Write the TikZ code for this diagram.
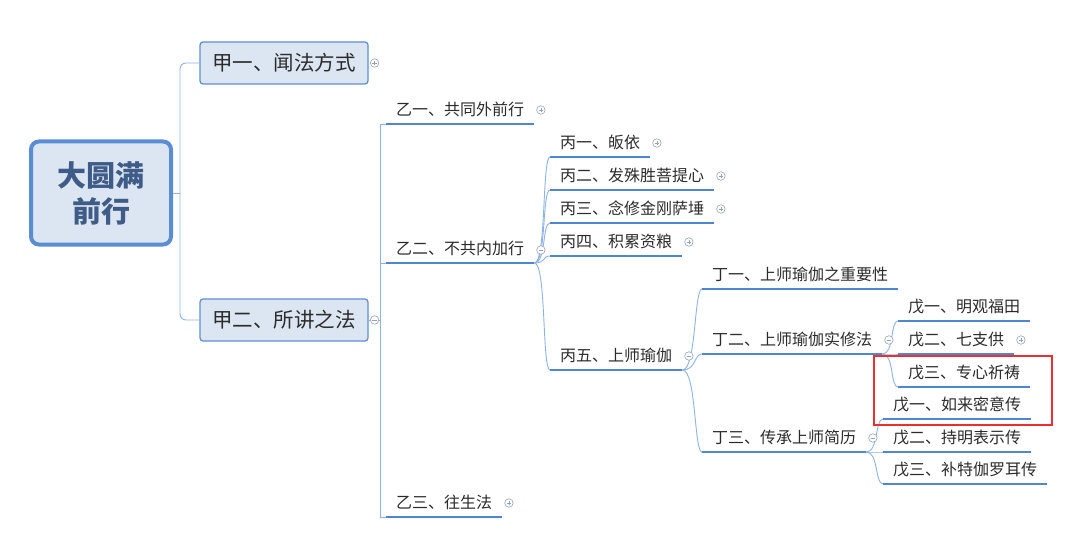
\documentclass[tikz,border=0pt]{standalone}
\usepackage{fontspec}
\setmainfont{Noto Sans CJK SC}
\definecolor{linkblue}{HTML}{8DB3E2}
\definecolor{lineblue}{HTML}{4F86CE}
\definecolor{boxblue}{HTML}{5B8DD3}
\definecolor{boxfill}{HTML}{DCE6F2}
\definecolor{roottext}{HTML}{3E5C87}
\definecolor{icongray}{HTML}{93A2BA}
\definecolor{labelgray}{HTML}{2B2B2B}
\definecolor{markred}{HTML}{EB2F2F}
\tikzset{
  rootbox/.style={draw=boxblue, fill=boxfill, line width=4pt, rounded corners=8pt,
    minimum width=140pt, minimum height=103pt, align=center,
    font=\fontsize{29}{36}\selectfont\bfseries, text=roottext},
  mainbox/.style={draw=boxblue, fill=boxfill, line width=1.2pt, rounded corners=3pt,
    minimum width=168pt, minimum height=42pt, inner xsep=10pt,
    font=\fontsize{20.5}{24}\selectfont, text=labelgray},
  topic/.style={anchor=south west, inner xsep=10pt, inner ysep=4pt,
    text height=12pt, text depth=4pt, font=\fontsize{16}{19}\selectfont, text=labelgray,
    append after command={(\tikzlastnode.south west) edge[uline] (\tikzlastnode.south east)}},
  uline/.style={draw=lineblue, line width=2.2pt},
  link/.style={draw=linkblue, line width=0.9pt},
  fan/.style={out=0, in=180, out distance=#1, in distance=8pt},
  fold/.style={circle, draw=icongray, fill=white, line width=0.6pt, inner sep=0pt, minimum size=8.5pt},
  foldplus/.style={fold, path picture={
    \draw[icongray, line width=0.6pt] ([xshift=-2.3pt]path picture bounding box.center) -- ([xshift=2.3pt]path picture bounding box.center)
      ([yshift=-2.3pt]path picture bounding box.center) -- ([yshift=2.3pt]path picture bounding box.center);}},
  foldminus/.style={fold, path picture={
    \draw[icongray, line width=0.6pt] ([xshift=-2.3pt]path picture bounding box.center) -- ([xshift=2.3pt]path picture bounding box.center);}},
  markbox/.style={draw=markred, line width=2pt}
}
\begin{document}
\begin{tikzpicture}[x=1pt, y=-1pt]
  \useasboundingbox (0,0) rectangle (1080,559);
  % root and first level
  \node [rootbox] (root) at (101,193) {大圆满\\前行};
  \node [mainbox] (jia1) at (284,63) {甲一、闻法方式};
  \node [mainbox] (jia2) at (284,320) {甲二、所讲之法};
  \coordinate (rootj) at (180,193);
  \draw [link] (root.east) -- (rootj);
  \draw [link, rounded corners=6pt] (rootj) |- (jia1.west);
  \draw [link, rounded corners=6pt] (rootj) |- (jia2.west);

  % second level
  \node [topic] (yi1) at (386,124) {乙一、共同外前行};
  \node [topic] (yi2) at (386,263) {乙二、不共内加行};
  \node [topic] (yi3) at (386,517) {乙三、往生法};
  \coordinate (jiaj) at (380,320);
  \draw [link] (jia2.east) -- (jiaj);
  \draw [link] (jiaj) |- (yi1.south west);
  \draw [link] (jiaj) |- (yi2.south west);
  \draw [link] (jiaj) |- (yi3.south west);

  % third level
  \node [topic] (bing1) at (550,157) {丙一、皈依};
  \node [topic] (bing2) at (550,190) {丙二、发殊胜菩提心};
  \node [topic] (bing3) at (550,223) {丙三、念修金刚萨埵};
  \node [topic] (bing4) at (550,256) {丙四、积累资粮};
  \node [topic] (bing5) at (550,370) {丙五、上师瑜伽};
  \draw [link] (yi2.south east) to[fan=12pt] (bing1.south west);
  \draw [link] (yi2.south east) to[fan=12pt] (bing2.south west);
  \draw [link] (yi2.south east) to[fan=12pt] (bing3.south west);
  \draw [link] (yi2.south east) to[fan=12pt] (bing4.south west);
  \draw [link] (yi2.south east) to[fan=12pt] (bing5.south west);

  % fourth level
  \node [topic] (ding1) at (702,289) {丁一、上师瑜伽之重要性};
  \node [topic] (ding2) at (702,354) {丁二、上师瑜伽实修法};
  \node [topic] (ding3) at (702,452) {丁三、传承上师简历};
  \draw [link] (bing5.south east) to[fan=14pt] (ding1.south west);
  \draw [link] (bing5.south east) to[fan=14pt] (ding2.south west);
  \draw [link] (bing5.south east) to[fan=14pt] (ding3.south west);

  % fifth level
  \node [topic] (wu1) at (898,321) {戊一、明观福田};
  \node [topic] (wu2) at (898,354) {戊二、七支供};
  \node [topic] (wu3) at (898,387) {戊三、专心祈祷};
  \node [topic] (wu4) at (883,419) {戊一、如来密意传};
  \node [topic] (wu5) at (883,452) {戊二、持明表示传};
  \node [topic] (wu6) at (883,484) {戊三、补特伽罗耳传};
  \draw [link] (ding2.south east) to[fan=12pt] (wu1.south west);
  \draw [link] (ding2.south east) to[fan=12pt] (wu2.south west);
  \draw [link] (ding2.south east) to[fan=12pt] (wu3.south west);
  \draw [link] (ding3.south east) to[fan=12pt] (wu4.south west);
  \draw [link] (ding3.south east) to[fan=12pt] (wu5.south west);
  \draw [link] (ding3.south east) to[fan=12pt] (wu6.south west);

  % fold icons
  \node [foldplus] (jia1f) at ([xshift=6pt]jia1.east) {};
  \node [foldminus] (jia2f) at ([xshift=6pt]jia2.east) {};
  \node [foldplus] (yi1f) at ([xshift=6.5pt, yshift=14pt]yi1.south east) {};
  \node [foldminus] (yi2f) at ([xshift=6.5pt, yshift=13pt]yi2.south east) {};
  \node [foldplus] (yi3f) at ([xshift=6.5pt, yshift=14pt]yi3.south east) {};
  \node [foldplus] (bing1f) at ([xshift=6.5pt, yshift=14pt]bing1.south east) {};
  \node [foldplus] (bing2f) at ([xshift=6.5pt, yshift=14pt]bing2.south east) {};
  \node [foldplus] (bing3f) at ([xshift=6.5pt, yshift=14pt]bing3.south east) {};
  \node [foldplus] (bing4f) at ([xshift=6.5pt, yshift=14pt]bing4.south east) {};
  \node [foldminus] (bing5f) at ([xshift=6.5pt, yshift=14pt]bing5.south east) {};
  \node [foldminus] (ding2f) at ([xshift=6.5pt, yshift=14pt]ding2.south east) {};
  \node [foldminus] (ding3f) at ([xshift=6.5pt, yshift=14pt]ding3.south east) {};
  \node [foldplus] (wu2f) at ([xshift=6.5pt, yshift=14pt]wu2.south east) {};

  % highlight
  \draw [markbox] (874,356) rectangle (1052,425);
\end{tikzpicture}
\end{document}
